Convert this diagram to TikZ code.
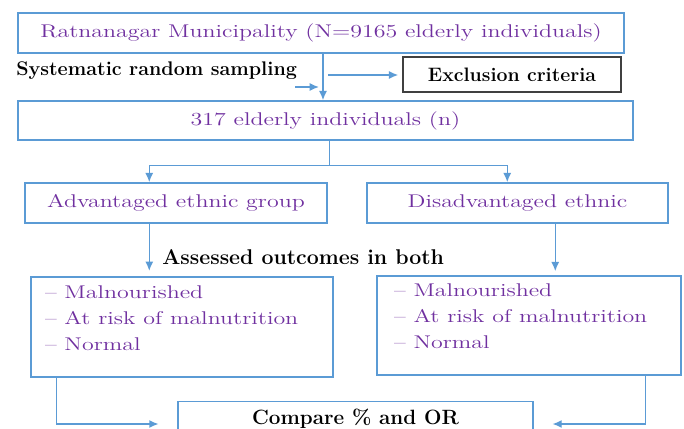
\documentclass[tikz,border=0pt]{standalone}
\usepackage{fontspec}
\usepackage{xcolor}
\usetikzlibrary{arrows.meta,positioning,calc}
\newfontfamily\widefont[FakeStretch=1.3,Ligatures=TeX]{Latin Modern Roman}
\definecolor{boxblue}{HTML}{5B9BD5}
\definecolor{txtpurple}{HTML}{7030A0}

\begin{document}
\begin{tikzpicture}[
  x=0.75pt, y=-0.75pt,
  box/.style={draw=boxblue, line width=1.1pt, fill=white, text=txtpurple,
              inner sep=0pt, align=center, font=\widefont\fontsize{13.8}{15}\selectfont},
  listtext/.style={box, draw=none, fill=none, align=left, anchor=north west,
                   font=\widefont\fontsize{13.8}{19.5}\selectfont},
  note/.style={font=\bfseries\fontsize{#1}{17}\selectfont, inner sep=0pt},
  arr/.style={-{Latex[length=7pt,width=6pt]}, draw=boxblue, line width=1.1pt},
  line/.style={draw=boxblue, line width=1.1pt}
]
  \clip (0,0) rectangle (684,428);
  % boxes
  \node[box, minimum width=606*0.75pt, minimum height=40*0.75pt] (town) at (321,33)
    {Ratnanagar Municipality (N=9165 elderly individuals)};
  \node[box, draw=black!75, text=black, font=\bfseries\fontsize{14.6}{16}\selectfont,
        minimum width=218*0.75pt, minimum height=35*0.75pt] (excl) at (512,74.5)
    {Exclusion criteria};
  \node[box, minimum width=615*0.75pt, minimum height=39*0.75pt] (sample) at (325.5,120.5)
    {317 elderly individuals (n)};
  \node[box, minimum width=302*0.75pt, minimum height=40*0.75pt] (adv) at (176,203)
    {Advantaged ethnic group};
  \node[box, minimum width=301*0.75pt, minimum height=40*0.75pt] (dis) at (517.5,203)
    {Disadvantaged ethnic};
  \node[box, minimum width=302*0.75pt, minimum height=100*0.75pt] (advout) at (182,327) {};
  \node[box, minimum width=304*0.75pt, minimum height=99*0.75pt] (disout) at (529,325.5) {};
  \node[box, text=black, font=\bfseries\fontsize{15.5}{17}\selectfont,
        anchor=north, minimum width=355*0.75pt, minimum height=35*0.75pt] (cmp) at (355.5,401)
    {Compare \% and OR};
  % outcome lists
  \node[listtext] (advlist) at ($(advout.north west)+(14,9)$)
    {\textendash\ Malnourished\\\textendash\ At risk of malnutrition\\\textendash\ Normal};
  \node[listtext] (dislist) at ($(disout.north west)+(17,8)$)
    {\textendash\ Malnourished\\\textendash\ At risk of malnutrition\\\textendash\ Normal};
  % side notes
  \node[note=14.8, anchor=west] (samp) at (16,71) {Systematic random sampling};
  \node[note=16, anchor=west] (assess) at (162,257) {Assessed outcomes in both};
  % connectors
  \coordinate (exstart) at (328,75);
  \coordinate (smallst) at (295,87);
  \coordinate (smallend) at (319,87);
  \draw[arr] ($(town.south)+(2,0)$) -- ($(sample.north)+(-2.5,0)$);
  \draw[arr, shorten >=3pt] (exstart) -- (exstart -| excl.west);
  \draw[arr] (smallst) -- (smallend);
  \draw[line] ($(sample.south)+(4,0)$) -- ++(0,25) coordinate (fork);
  \draw[arr] (fork) -| ($(adv.north west)+(125,0)$);
  \draw[arr] (fork) -| ($(dis.north west)+(141,0)$);
  \draw[arr, shorten >=4pt] ($(adv.south west)+(125,0)$) -- ($(advout.north west)+(119,0)$);
  \draw[arr, shorten >=3pt] ($(dis.south west)+(189,0)$) -- ($(disout.north west)+(179,0)$);
  \draw[arr, shorten >=14pt] ($(advout.south west)+(26,0)$) |- ($(cmp.north west)+(0,23)$);
  \draw[arr, shorten >=14pt] ($(disout.south west)+(269,0)$) |- ($(cmp.north east)+(0,23)$);
\end{tikzpicture}
\end{document}
